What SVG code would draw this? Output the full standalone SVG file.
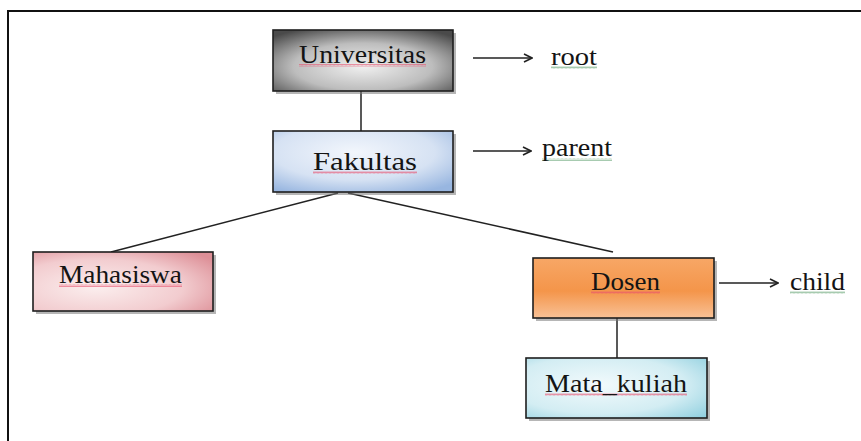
<svg xmlns="http://www.w3.org/2000/svg" width="861" height="441" viewBox="0 0 861 441">
<defs>
<radialGradient id="gGray" cx="0.5" cy="0.6" r="0.7">
<stop offset="0" stop-color="#f0f0f0"/><stop offset="0.55" stop-color="#bdbdbd"/><stop offset="1" stop-color="#4a4a4a"/>
</radialGradient>
<radialGradient id="gBlue" cx="0.45" cy="0.35" r="0.75">
<stop offset="0" stop-color="#f2f6fc"/><stop offset="0.6" stop-color="#d6e2f3"/><stop offset="1" stop-color="#98b6e0"/>
</radialGradient>
<radialGradient id="gPink" cx="0.35" cy="0.6" r="0.8">
<stop offset="0" stop-color="#fbeeee"/><stop offset="0.6" stop-color="#f2cccf"/><stop offset="1" stop-color="#dd8f97"/>
</radialGradient>
<linearGradient id="gOrange" x1="0" y1="0" x2="0" y2="1">
<stop offset="0" stop-color="#f7a766"/><stop offset="0.55" stop-color="#f4954a"/><stop offset="1" stop-color="#f8c196"/>
</linearGradient>
<radialGradient id="gCyan" cx="0.4" cy="0.45" r="0.8">
<stop offset="0" stop-color="#f2fafc"/><stop offset="0.6" stop-color="#d3edf3"/><stop offset="1" stop-color="#8fcfdf"/>
</radialGradient>
<marker id="arr" markerWidth="10" markerHeight="10" refX="9" refY="5" orient="auto" markerUnits="userSpaceOnUse">
<path d="M1,1 L9,5 L1,9" fill="none" stroke="#222" stroke-width="1.6"/>
</marker>
<pattern id="redWave" width="4" height="3" patternUnits="userSpaceOnUse">
<path d="M0,2.5 L1,0.5 L2,2.5 L3,0.5 L4,2.5" fill="none" stroke="#e8506e" stroke-width="0.7"/>
</pattern>
<pattern id="greenWave" width="4" height="3" patternUnits="userSpaceOnUse">
<path d="M0,2.5 L1,0.5 L2,2.5 L3,0.5 L4,2.5" fill="none" stroke="#6aa87a" stroke-width="0.7"/>
</pattern>
</defs>
<style>
.box{stroke:#1e1e1e;stroke-width:1.6}
.shadow{fill:#7a7a7a;opacity:0.55}
.lbl{font-family:"Liberation Serif","Times New Roman",serif;font-size:26px;fill:#141414}
.line{stroke:#222;stroke-width:1.5;fill:none}
.wave{opacity:0.85}
</style>
<rect width="861" height="441" fill="#ffffff"/>
<path d="M8,441 V11 H861" fill="none" stroke="#111" stroke-width="2"/>

<g id="connectors">
<line class="line" x1="361" y1="91" x2="361" y2="131"/>
<line class="line" x1="338" y1="193" x2="111" y2="252"/>
<line class="line" x1="348" y1="193" x2="613" y2="252"/>
<line class="line" x1="617" y1="318" x2="617" y2="358"/>
<line class="line" x1="473" y1="58" x2="532" y2="58" marker-end="url(#arr)"/>
<line class="line" x1="473" y1="151" x2="531" y2="151" marker-end="url(#arr)"/>
<line class="line" x1="719" y1="283" x2="778" y2="283" marker-end="url(#arr)"/>
</g>

<g id="node-universitas">
<rect class="shadow" x="276" y="33" width="180" height="61"/>
<rect class="box" x="273" y="30" width="180" height="61" fill="url(#gGray)"/>
<rect class="wave" x="299" y="64" width="127" height="3" fill="url(#redWave)"/>
<text class="lbl" x="299" y="63" textLength="127" lengthAdjust="spacingAndGlyphs">Universitas</text>
</g>

<g id="node-fakultas">
<rect class="shadow" x="276" y="134" width="180" height="61"/>
<rect class="box" x="273" y="131" width="180" height="61" fill="url(#gBlue)"/>
<rect class="wave" x="313" y="171" width="104" height="3" fill="url(#redWave)"/>
<text class="lbl" x="313" y="170" textLength="104" lengthAdjust="spacingAndGlyphs">Fakultas</text>
</g>

<g id="node-mahasiswa">
<rect class="shadow" x="36" y="255" width="180" height="59"/>
<rect class="box" x="33" y="252" width="180" height="59" fill="url(#gPink)"/>
<rect class="wave" x="59" y="284" width="123" height="3" fill="url(#redWave)"/>
<text class="lbl" x="59" y="283" textLength="123" lengthAdjust="spacingAndGlyphs">Mahasiswa</text>
</g>

<g id="node-dosen">
<rect class="shadow" x="536" y="261" width="181" height="60"/>
<rect class="box" x="533" y="258" width="181" height="60" fill="url(#gOrange)"/>
<rect class="wave" x="591" y="291" width="69" height="3" fill="url(#redWave)"/>
<text class="lbl" x="591" y="290" textLength="69" lengthAdjust="spacingAndGlyphs">Dosen</text>
</g>

<g id="node-mata-kuliah">
<rect class="shadow" x="529" y="361" width="181" height="60"/>
<rect class="box" x="526" y="358" width="181" height="60" fill="url(#gCyan)"/>
<rect class="wave" x="545" y="393" width="142" height="3" fill="url(#redWave)"/>
<text class="lbl" x="545" y="392" textLength="142" lengthAdjust="spacingAndGlyphs">Mata_kuliah</text>
</g>

<g id="label-root">
<rect class="wave" x="551" y="66" width="46" height="3" fill="url(#greenWave)"/>
<text class="lbl" x="551" y="65" textLength="46" lengthAdjust="spacingAndGlyphs">root</text>
</g>
<g id="label-parent">
<rect class="wave" x="542" y="158" width="70" height="3" fill="url(#greenWave)"/>
<text class="lbl" x="542" y="156" textLength="70" lengthAdjust="spacingAndGlyphs">parent</text>
</g>
<g id="label-child">
<rect class="wave" x="790" y="291" width="55" height="3" fill="url(#greenWave)"/>
<text class="lbl" x="790" y="290" textLength="55" lengthAdjust="spacingAndGlyphs">child</text>
</g>
</svg>
